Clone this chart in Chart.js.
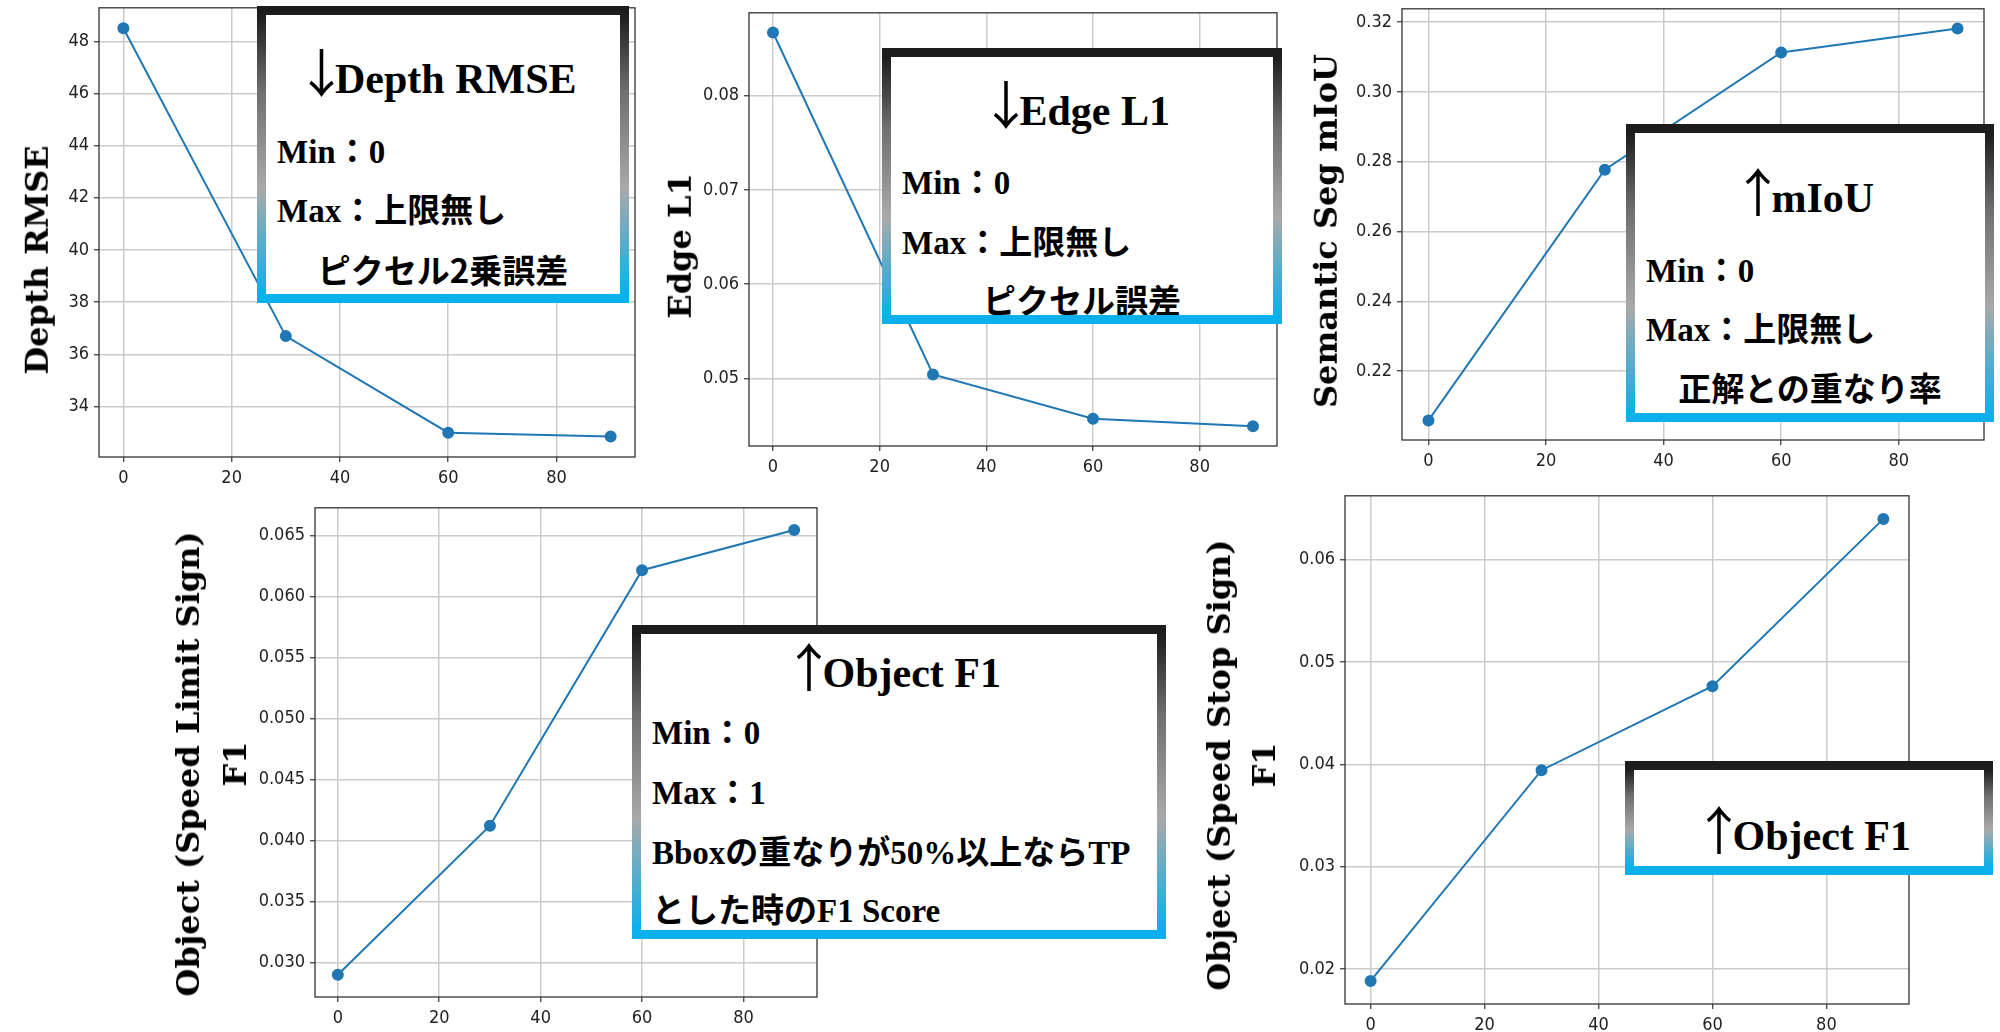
<!DOCTYPE html>
<html>
<head>
<meta charset="utf-8">
<script src="https://cdn.jsdelivr.net/npm/chart.js@4.4.0/dist/chart.umd.min.js"></script>
<style>
html, body { margin: 0; padding: 0; background: #fff; }
#page { position: relative; width: 2000px; height: 1032px; overflow: hidden; background: #fff; }
canvas { position: absolute; }
.ytitle { position: absolute; font-family: "DejaVu Serif", serif; font-weight: bold; font-size: 32px;
  white-space: nowrap; text-align: center; color: #000; line-height: 1.2;
  transform: translate(-50%, -50%) rotate(-90deg); }
.box { position: absolute; background: #fff; overflow: hidden; }
.box .frame { position: absolute; left: 0; top: 0; right: 0; bottom: 0; border: 9px solid;
  border-image: linear-gradient(to bottom, #1c1c1c 0%, #707070 28%, #a9a9a9 62%, #0bb0ec 100%) 1; }
.box .ln { position: absolute; white-space: nowrap; line-height: 1; font-weight: bold; color: #000;
  font-family: "Liberation Serif", "Noto Sans CJK JP", serif; }
.box .t { font-size: 42px; left: 0; right: 0; text-align: center; }
.box .ar { font-family: "Noto Sans CJK JP", sans-serif; font-weight: 400; font-size: 52px; line-height: 0;
  margin-left: -0.27em; margin-right: -0.24em; }
.box .b { font-size: 33px; left: 20px; }
.box .jp { font-family: "Noto Sans CJK JP", sans-serif; left: 0; right: 0; text-align: center; }
</style>
</head>
<body>
<div id="page">
  <canvas id="c1"></canvas>
  <canvas id="c2"></canvas>
  <canvas id="c3"></canvas>
  <canvas id="c4"></canvas>
  <canvas id="c5"></canvas>

  <div class="ytitle" style="left:37px;top:260px">Depth RMSE</div>
  <div class="ytitle" style="left:680px;top:246px">Edge L1</div>
  <div class="ytitle" style="left:1326px;top:231px">Semantic Seg mIoU</div>
  <div class="ytitle" style="left:212px;top:764px;line-height:47px">Object (Speed Limit Sign)<br>F1</div>
  <div class="ytitle" style="left:1242px;top:765px;line-height:45px">Object (Speed Stop Sign)<br>F1</div>

  <div class="box" style="left:257px;top:6px;width:372px;height:297px">
    <div class="ln t" style="top:52px"><span class="ar">↓</span>Depth RMSE</div>
    <div class="ln b" style="top:130px">Min：0</div>
    <div class="ln b" style="top:189px">Max：上限無し</div>
    <div class="ln b jp" style="top:247px">ピクセル2乗誤差</div>
    <div class="frame"></div>
  </div>

  <div class="box" style="left:882px;top:48px;width:400px;height:276px">
    <div class="ln t" style="top:42px"><span class="ar">↓</span>Edge L1</div>
    <div class="ln b" style="top:119px">Min：0</div>
    <div class="ln b" style="top:179px">Max：上限無し</div>
    <div class="ln b jp" style="top:235px">ピクセル誤差</div>
    <div class="frame"></div>
  </div>

  <div class="box" style="left:1626px;top:124px;width:368px;height:298px">
    <div class="ln t" style="top:53px"><span class="ar">↑</span>mIoU</div>
    <div class="ln b" style="top:131px">Min：0</div>
    <div class="ln b" style="top:190px">Max：上限無し</div>
    <div class="ln b jp" style="top:247px">正解との重なり率</div>
    <div class="frame"></div>
  </div>

  <div class="box" style="left:632px;top:625px;width:534px;height:314px">
    <div class="ln t" style="top:27px"><span class="ar">↑</span>Object F1</div>
    <div class="ln b" style="top:92px">Min：0</div>
    <div class="ln b" style="top:152px">Max：1</div>
    <div class="ln b" style="top:212px">Bboxの重なりが50%以上ならTP</div>
    <div class="ln b" style="top:270px">とした時のF1 Score</div>
    <div class="frame"></div>
  </div>

  <div class="box" style="left:1625px;top:761px;width:368px;height:114px">
    <div class="ln t" style="top:54px"><span class="ar">↑</span>Object F1</div>
    <div class="frame"></div>
  </div>
</div>

<script>
// 学習ステップ (x) と各指標の値
const steps = [0, 30, 60, 90];
const depthRmse = [48.5, 36.7, 33.0, 32.85];
const edgeL1 = [0.0867, 0.0504, 0.0457, 0.0449];
const segMiou = [0.2059, 0.2777, 0.3113, 0.3182];
const speedLimitF1 = [0.0290, 0.04122, 0.06217, 0.06546];
const stopSignF1 = [0.01884, 0.03942, 0.04763, 0.06397];

// 目盛り
const xTicks = [0, 20, 40, 60, 80];
const depthTicks = [34, 36, 38, 40, 42, 44, 46, 48];
const edgeTicks = [0.05, 0.06, 0.07, 0.08];
const miouTicks = [0.22, 0.24, 0.26, 0.28, 0.30, 0.32];
const limitTicks = [0.030, 0.035, 0.040, 0.045, 0.050, 0.055, 0.060, 0.065];
const stopTicks = [0.02, 0.03, 0.04, 0.05, 0.06];

const TICK_FONT = { family: '"Liberation Sans Narrow", "DejaVu Sans Condensed", "Noto Sans CJK JP", sans-serif', size: 18 };

// 枠線 (matplotlibのspines)
const framePlugin = {
  id: 'frame',
  afterDraw(chart) {
    const a = chart.chartArea, ctx = chart.ctx;
    ctx.save();
    ctx.strokeStyle = '#333';
    ctx.lineWidth = 1.3;
    ctx.strokeRect(a.left, a.top, a.right - a.left, a.bottom - a.top);
    ctx.restore();
  }
};

function createLineChart(id, rect, values, yTicks, digits) {
  const padL = 75, padT = 10, padR = 15, padB = 40;
  const canvas = document.getElementById(id);
  canvas.width = rect.r - rect.l + padL + padR;
  canvas.height = rect.b - rect.t + padT + padB;
  canvas.style.left = (rect.l - padL) + 'px';
  canvas.style.top = (rect.t - padT) + 'px';

  const lo = Math.min(...values), hi = Math.max(...values);
  const ym = (hi - lo) * 0.05;
  const xm = (steps[steps.length - 1] - steps[0]) * 0.05;

  const grid = { color: '#cccccc', lineWidth: 1.5, drawTicks: true, tickLength: 5, tickColor: '#333', tickWidth: 1.2 };

  new Chart(canvas.getContext('2d'), {
    type: 'line',
    data: {
      datasets: [{
        data: steps.map((s, i) => ({ x: s, y: values[i] })),
        borderColor: '#1f77b4',
        backgroundColor: '#1f77b4',
        borderWidth: 2,
        pointRadius: 5,
        pointHoverRadius: 5,
        tension: 0
      }]
    },
    options: {
      responsive: false,
      animation: false,
      layout: { padding: { left: 0, top: padT, right: padR, bottom: 0 } },
      plugins: { legend: { display: false }, tooltip: { enabled: false } },
      scales: {
        x: {
          type: 'linear',
          min: steps[0] - xm,
          max: steps[steps.length - 1] + xm,
          afterFit: s => { s.height = padB; },
          afterBuildTicks: s => { s.ticks = xTicks.map(v => ({ value: v })); },
          ticks: { font: TICK_FONT, color: '#222', padding: 6, maxRotation: 0, autoSkip: false, callback: v => String(v) },
          grid: grid,
          border: { display: false }
        },
        y: {
          type: 'linear',
          min: lo - ym,
          max: hi + ym,
          afterFit: s => { s.width = padL; },
          afterBuildTicks: s => { s.ticks = yTicks.map(v => ({ value: v })); },
          ticks: { font: TICK_FONT, color: '#222', padding: 5, autoSkip: false, callback: v => v.toFixed(digits) },
          grid: grid,
          border: { display: false }
        }
      }
    },
    plugins: [framePlugin]
  });
}

createLineChart('c1', { l: 99, t: 2, r: 635, b: 457 }, depthRmse, depthTicks, 0);
createLineChart('c2', { l: 749, t: 7, r: 1277, b: 446 }, edgeL1, edgeTicks, 2);
createLineChart('c3', { l: 1402, t: 3, r: 1984, b: 440 }, segMiou, miouTicks, 2);
createLineChart('c4', { l: 315, t: 502, r: 817, b: 997 }, speedLimitF1, limitTicks, 3);
createLineChart('c5', { l: 1345, t: 490, r: 1909, b: 1004 }, stopSignF1, stopTicks, 2);
</script>
</body>
</html>
